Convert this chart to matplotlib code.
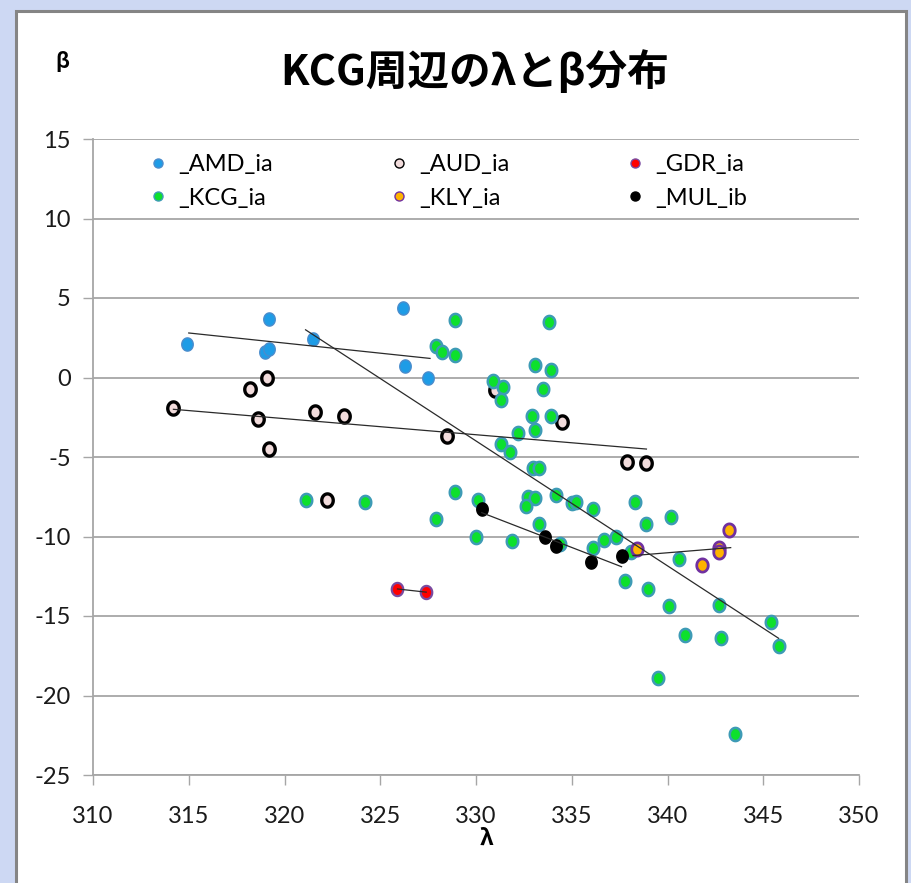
import numpy as np
import matplotlib
matplotlib.use("Agg")
import matplotlib.pyplot as plt
from matplotlib.path import Path
from matplotlib.patches import Rectangle
from matplotlib.lines import Line2D

# ---------------- data ----------------
amd_x = [314.9, 319.2, 319.0, 319.2, 321.5, 326.2, 326.3, 327.5]
amd_y = [2.1, 3.7, 1.6, 1.8, 2.4, 4.4, 0.7, 0.0]

aud_x = [314.2, 318.2, 319.1, 318.6, 321.6, 323.1, 319.2, 322.2, 331.0, 328.5, 334.5, 337.9, 338.9]
aud_y = [-1.9, -0.7, 0.0, -2.6, -2.2, -2.4, -4.5, -7.7, -0.8, -3.7, -2.8, -5.3, -5.4]

gdr_x = [325.9, 327.4]
gdr_y = [-13.3, -13.5]

kcg_x = [321.1, 324.2, 328.9, 333.8, 327.9, 328.2, 328.9, 333.1, 333.9, 330.9,
         331.4, 331.3, 333.5, 332.9, 333.9, 333.1, 332.2, 331.3, 331.8, 333.0,
         333.3, 328.9, 330.1, 327.9, 332.7, 333.1, 332.6, 334.2, 335.0, 335.2,
         336.1, 338.3, 340.2, 338.9, 333.3, 330.0, 331.9, 334.4, 336.1, 336.7,
         337.3, 337.8, 338.1, 340.6, 339.0, 340.1, 342.7, 340.9, 342.8, 345.4,
         345.8, 339.5, 343.5]
kcg_y = [-7.7, -7.8, 3.6, 3.5, 2.0, 1.6, 1.4, 0.8, 0.5, -0.2,
         -0.6, -1.4, -0.7, -2.4, -2.4, -3.3, -3.5, -4.2, -4.7, -5.7,
         -5.7, -7.2, -7.7, -8.9, -7.5, -7.6, -8.1, -7.4, -7.9, -7.8,
         -8.3, -7.8, -8.8, -9.2, -9.2, -10.0, -10.3, -10.5, -10.7, -10.2,
         -10.0, -12.8, -11.0, -11.4, -13.3, -14.4, -14.3, -16.2, -16.4, -15.4,
         -16.9, -18.9, -22.4]

kly_x = [338.4, 343.2, 342.7, 342.7, 341.8]
kly_y = [-10.8, -9.6, -10.7, -11.0, -11.8]

mul_x = [330.3, 333.6, 334.2, 336.0, 337.6]
mul_y = [-8.3, -10.0, -10.6, -11.6, -11.2]

# linear trend lines (end points)
amd_trend_x, amd_trend_y = [315.0, 327.6], [2.8, 1.2]
aud_trend_x, aud_trend_y = [314.2, 338.9], [-2.0, -4.5]
gdr_trend_x, gdr_trend_y = [325.9, 327.4], [-13.3, -13.5]
kcg_trend_x, kcg_trend_y = [321.1, 345.8], [3.0, -16.4]
kly_trend_x, kly_trend_y = [338.2, 343.3], [-11.2, -10.7]
mul_trend_x, mul_trend_y = [330.3, 337.6], [-8.5, -11.9]

series_names = ["_AMD_ia", "_AUD_ia", "_GDR_ia", "_KCG_ia", "_KLY_ia", "_MUL_ib"]
x_ticks = [310, 315, 320, 325, 330, 335, 340, 345, 350]
y_ticks = [15, 10, 5, 0, -5, -10, -15, -20, -25]

# ---------------- style ----------------
W, H = 912, 883
fig = plt.figure(figsize=(W / 100, H / 100), dpi=100, facecolor="#cdd8f3")

panel = Rectangle((16 / W, -0.01), (906 - 16) / W, 1 - 11 / H + 0.01,
                  transform=fig.transFigure, facecolor="white",
                  edgecolor="#858585", linewidth=2.2, zorder=-10)
fig.patches.append(panel)

ax = fig.add_axes([93 / W, 1 - 775 / H, (859 - 93) / W, (775 - 139) / H])
ax.set_zorder(2)
ax.set_facecolor("white")

t = np.linspace(0, 2 * np.pi, 64)
ellipse = Path(np.column_stack([np.cos(t), 1.15 * np.sin(t)]), closed=True)

styles = [
    dict(mfc="#1e9ce6", mec="#4a8ccc", mew=1.0),
    dict(mfc="#f2dcdc", mec="#000000", mew=2.4),
    dict(mfc="#ff0000", mec="#7a4aa0", mew=1.6),
    dict(mfc="#0de02c", mec="#3d9bb5", mew=1.8),
    dict(mfc="#ffb400", mec="#7030a0", mew=2.0),
    dict(mfc="#000000", mec="#000000", mew=1.0),
]
xs = [amd_x, aud_x, gdr_x, kcg_x, kly_x, mul_x]
ys = [amd_y, aud_y, gdr_y, kcg_y, kly_y, mul_y]

for i, (x, y, st) in enumerate(zip(xs, ys, styles)):
    ax.plot(x, y, linestyle="none", marker=ellipse, markersize=9.5,
            zorder=3 + i * 0.1, **st)

trends = [(amd_trend_x, amd_trend_y), (aud_trend_x, aud_trend_y),
          (gdr_trend_x, gdr_trend_y), (kcg_trend_x, kcg_trend_y),
          (kly_trend_x, kly_trend_y), (mul_trend_x, mul_trend_y)]
for tx, ty in trends:
    ax.plot(tx, ty, color="#2a2a2a", linewidth=0.9, zorder=5)

ax.set_xlim(310, 350)
ax.set_ylim(-25, 15)
ax.set_xticks(x_ticks)
ax.set_yticks(y_ticks)
ax.set_xticklabels([str(v) for v in x_ticks])
ax.set_yticklabels([str(v) for v in y_ticks])

tick_family = ["Lato", "DejaVu Sans"]
for lab in ax.get_xticklabels() + ax.get_yticklabels():
    lab.set_fontfamily(tick_family)
    lab.set_fontsize(17)
    lab.set_color("#1a1a1a")

grid_c = "#a6a6a6"
ax.grid(axis="y", color=grid_c, linewidth=1.3, zorder=1)
ax.set_axisbelow(True)
for s in ["top", "right"]:
    ax.spines[s].set_visible(False)
for s in ["left", "bottom"]:
    ax.spines[s].set_color(grid_c)
    ax.spines[s].set_linewidth(1.3)
ax.tick_params(axis="both", direction="out", length=7, width=1.0, color=grid_c)
ax.tick_params(axis="x", pad=15)
ax.tick_params(axis="y", pad=9)

# legend (row order: AMD AUD GDR / KCG KLY MUL)
handles = [Line2D([], [], linestyle="none", marker="o", markersize=6.5,
                  mfc=st["mfc"], mec=st["mec"], mew=min(st["mew"], 1.0))
           for st in styles]
order = [0, 3, 1, 4, 2, 5]
leg = ax.legend([handles[k] for k in order], [series_names[k] for k in order],
                ncol=3, loc="upper left", bbox_to_anchor=(146 / W, 1 - 154 / H),
                bbox_transform=fig.transFigure, frameon=False,
                prop=dict(family=tick_family, size=17),
                handlelength=1.0, handletextpad=0.35, columnspacing=4.85,
                labelspacing=0.53, borderpad=0, borderaxespad=0)

fig.text(475 / W, 1 - 72 / H, "KCG周辺のλとβ分布", ha="center", va="center",
         fontsize=30, fontweight="bold",
         family=["Noto Sans CJK JP", "DejaVu Sans"])
fig.text(62 / W, 1 - 62 / H, "β", ha="center", va="center", fontsize=15,
         fontweight="bold", family=["Noto Sans CJK JP", "DejaVu Sans"])
fig.text(486 / W, 1 - 838 / H, "λ", ha="center", va="center", fontsize=16,
         fontweight="bold", family=["Noto Sans CJK JP", "DejaVu Sans"])

fig.savefig("out.png", dpi=100, facecolor=fig.get_facecolor())
